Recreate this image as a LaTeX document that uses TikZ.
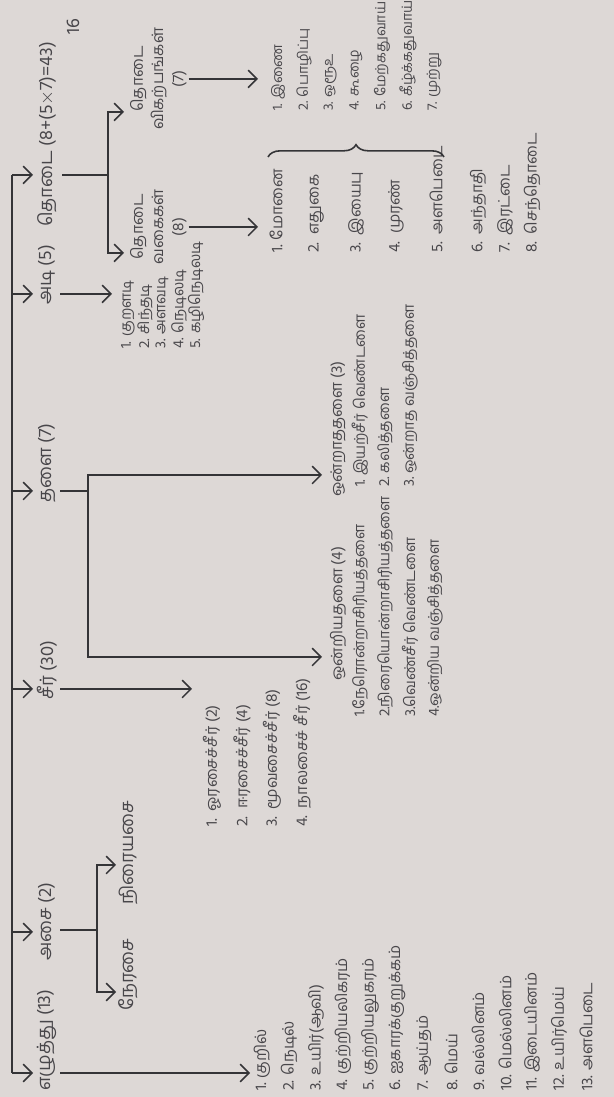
\documentclass[tikz,border=0pt]{standalone}
\usepackage{fontspec}
\setmainfont{Hind Madurai}[Script=Tamil]
\usetikzlibrary{arrows.meta}
\usetikzlibrary{decorations.pathreplacing}

\definecolor{paper}{RGB}{221,216,214}
\definecolor{ink}{RGB}{52,52,55}
\definecolor{pencil}{RGB}{72,70,74}

\begin{document}
\begin{tikzpicture}[x=0.02cm, y=0.02cm,
        line/.style={draw=ink, line width=0.9pt},
        arr/.style={line, -{Straight Barb[length=5pt,width=10pt]}},
        lbl/.style={anchor=west, inner sep=1pt, text=pencil, font=\fontsize{10.5}{12}\selectfont},
        item/.style={lbl, font=\fontsize{9}{11}\selectfont},
        tight/.style={lbl, font=\fontsize{8.5}{10}\selectfont},
        stack/.style={anchor=north, align=center, inner sep=1pt, text=pencil, font=\fontsize{9}{11.5}\selectfont}]
    \fill[paper] (0,0) rectangle (614,1097);
    \useasboundingbox (0,0) rectangle (614,1097);

    % page is printed sideways: landscape coordinates (x, -y)
    \begin{scope}[rotate=90, transform shape]
        % main line
        \foreach \n/\x in {1/24, 2/165, 3/408, 4/606, 5/803, 6/922} {
            \coordinate (s\n) at (\x,-12);
            \coordinate (t\n) at (\x,-33);
        }
        \draw[line] (s1) -- (s6);
        \foreach \n in {1,...,6}
            \draw[arr] (s\n) -- (t\n);

        \node[lbl] (ezhu) at (4,-47) {எழுத்து (13)};
        \node[lbl] (asai) at (134,-47) {அசை (2)};
        \node[lbl] (seer) at (395,-47) {சீர் (30)};
        \node[lbl] (thalai) at (592,-47) {தளை (7)};
        \node[lbl] (adi) at (790,-47) {அடி (5)};
        \node[lbl] (thodai) at (868,-47) {தொடை (8+(5${\times}$7)=43)};
        \node[lbl] (pageno) at (1060,-73) {16};

        % letters
        \coordinate (ezhu-a) at (24,-60);
        \coordinate (ezhu-b) at (24,-250);
        \draw[arr] (ezhu-a) -- (ezhu-b);
        \foreach \t [count=\i] in {குறில், நெடில், உயிர்(ஆவி), குற்றியலிகரம், குற்றியலுகரம், ஐகாரக்குறுக்கம், ஆய்தம், மெய், வல்லினம், மெல்லினம், இடையினம், உயிர்மெய், அளபெடை}
            \node[item] (ez\i) at (4,{-262-27*(\i-1)}) {\i. \t};

        % asai
        \coordinate (asai-a) at (167,-60);
        \coordinate (asai-b) at (167,-97);
        \coordinate (ner-a) at (105,-97);
        \coordinate (ner-b) at (105,-116);
        \coordinate (nirai-a) at (232,-97);
        \coordinate (nirai-b) at (232,-116);
        \draw[line] (asai-a) -- (asai-b);
        \draw[arr] (asai-b) -- (ner-a) -- (ner-b);
        \draw[arr] (asai-b) -- (nirai-a) -- (nirai-b);
        \node[lbl] (nerasai) at (84,-128) {நேரசை};
        \node[lbl] (niraiyasai) at (190,-128) {நிரையசை};

        % seer
        \coordinate (seer-a) at (408,-60);
        \coordinate (seer-b) at (408,-192);
        \draw[arr] (seer-a) -- (seer-b);
        \node[item] (seer1) at (268,-212) {1.\ \ ஓரசைச்சீர் (2)};
        \node[item] (seer2) at (268,-242) {2.\ \ ஈரசைச்சீர் (4)};
        \node[item] (seer3) at (268,-272) {3.\ \ மூவசைச்சீர் (8)};
        \node[item] (seer4) at (268,-302) {4.\ \ நாலசைச் சீர் (16)};

        % thalai
        \coordinate (thalai-a) at (606,-60);
        \coordinate (thalai-b) at (606,-88);
        \coordinate (ondri-a) at (440,-88);
        \coordinate (ondri-b) at (440,-322);
        \coordinate (ondra-a) at (622,-88);
        \coordinate (ondra-b) at (622,-322);
        \draw[line] (thalai-a) -- (thalai-b);
        \draw[arr] (thalai-b) -- (ondri-a) -- (ondri-b);
        \draw[arr] (thalai-b) -- (ondra-a) -- (ondra-b);
        \node[item] (ondriya) at (414,-338) {ஒன்றியதளை (4)};
        \node[tight] (ondri1) at (378,-360) {1.நேரொன்றாசிரியத்தளை};
        \node[tight] (ondri2) at (378,-385) {2.நிரையொன்றாசிரியத்தளை};
        \node[tight] (ondri3) at (378,-410) {3.வெண்சீர் வெண்டளை};
        \node[tight] (ondri4) at (378,-435) {4.ஒன்றிய வஞ்சித்தளை};
        \node[item] (ondraa) at (598,-338) {ஒன்றாததளை (3)};
        \node[tight] (ondra1) at (608,-360) {1.\ இயற்சீர் வெண்டளை};
        \node[tight] (ondra2) at (608,-385) {2.\ கலித்தளை};
        \node[tight] (ondra3) at (608,-410) {3.\ ஒன்றாத வஞ்சித்தளை};

        % adi
        \coordinate (adi-a) at (803,-60);
        \coordinate (adi-b) at (803,-112);
        \draw[arr] (adi-a) -- (adi-b);
        \node[tight] (adi1) at (746,-128) {1. குறளடி};
        \node[tight] (adi2) at (746,-145) {2. சிந்தடி};
        \node[tight] (adi3) at (746,-162) {3. அளவடி};
        \node[tight] (adi4) at (746,-179) {4. நெடிலடி};
        \node[tight] (adi5) at (746,-196) {5. கழிநெடிலடி};

        % thodai
        \coordinate (thodai-a) at (922,-62);
        \coordinate (thodai-b) at (922,-108);
        \coordinate (vagai-a) at (844,-108);
        \coordinate (vagai-b) at (844,-124);
        \coordinate (vikar-a) at (985,-108);
        \coordinate (vikar-b) at (985,-124);
        \draw[line] (thodai-a) -- (thodai-b);
        \draw[arr] (thodai-b) -- (vagai-a) -- (vagai-b);
        \draw[arr] (thodai-b) -- (vikar-a) -- (vikar-b);
        \node[stack] (vagai) at (870,-128) {தொடை\\வகைகள்\\(8)};
        \node[stack] (vikar) at (1018,-128) {தொடை\\விகற்பங்கள்\\(7)};
        \coordinate (vagai-c) at (870,-258);
        \coordinate (vikar-c) at (1018,-258);
        \draw[arr] (vagai.south) -- (vagai-c);
        \draw[arr] (vikar.south) -- (vikar-c);

        \node[item] (vg1) at (842,-276) {1. மோனை};
        \node[item] (vg2) at (842,-316) {2.\ \ எதுகை};
        \node[item] (vg3) at (842,-356) {3.\ \ இயைபு};
        \node[item] (vg4) at (842,-396) {4.\ \ முரண்};
        \node[item] (vg5) at (842,-436) {5.\ \ அளபெடை};
        \node[item] (vg6) at (842,-478) {6.\ \ அந்தாதி};
        \node[item] (vg7) at (842,-505) {7.\ \ இரட்டை};
        \node[item] (vg8) at (842,-532) {8.\ \ செந்தொடை};

        \foreach \t [count=\i] in {இணை, பொழிப்பு, ஒரூஉ, கூழை, மேற்கதுவாய், கீழ்க்கதுவாய், முற்று}
            \node[lbl, font=\fontsize{8}{10}\selectfont] (vk\i) at (984,{-278-26*(\i-1)}) {\i. \t};

        \coordinate (brace-a) at (940,-268);
        \coordinate (brace-b) at (940,-444);
        \draw[line, decorate, decoration={brace, amplitude=7pt}] (brace-a) -- (brace-b);
    \end{scope}
\end{tikzpicture}
\end{document}
